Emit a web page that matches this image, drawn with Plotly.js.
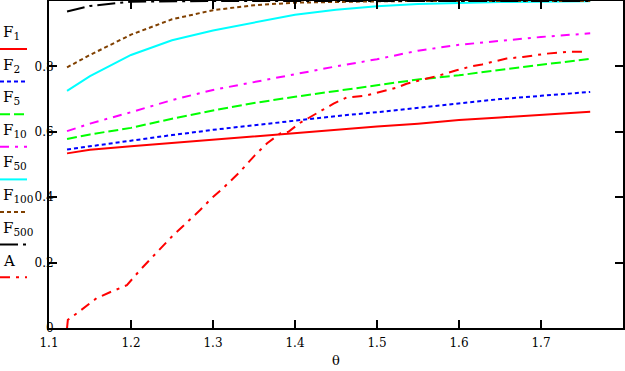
<!DOCTYPE html>
<html>
<head>
<meta charset="utf-8">
<script src="https://cdn.plot.ly/plotly-3.0.1.min.js"></script>
<style>html,body{margin:0;padding:0;background:#fff;}#chart{width:625px;height:371px;}</style>
</head>
<body>
<div id="chart"></div>
<script>
// ---- data ----
const theta = [1.122,1.15,1.2,1.25,1.3,1.35,1.4,1.45,1.5,1.55,1.6,1.65,1.7,1.76];
const F1   = [0.534,0.545,0.556,0.566,0.578,0.588,0.598,0.607,0.616,0.625,0.636,0.644,0.652,0.661];
const F2   = [0.546,0.556,0.573,0.590,0.606,0.620,0.636,0.648,0.660,0.673,0.688,0.700,0.710,0.722];
const F5   = [0.578,0.592,0.612,0.640,0.665,0.688,0.707,0.725,0.742,0.760,0.773,0.790,0.805,0.823];
const F10  = [0.602,0.625,0.660,0.697,0.728,0.752,0.778,0.800,0.822,0.848,0.866,0.879,0.890,0.901];
const F50  = [0.725,0.770,0.835,0.880,0.910,0.935,0.958,0.973,0.984,0.991,0.995,0.997,0.998,0.999];
const F100 = [0.797,0.835,0.897,0.944,0.972,0.987,0.995,0.998,0.999,1,1,1,1,1];
const F500 = [0.968,0.985,0.998,1,1,1,1,1,1,1,1,1,1,1];
const thetaA = [1.122,1.123,1.134,1.158,1.175,1.195,1.211,1.223,1.25,1.284,1.298,1.312,1.333,1.351,1.366,1.382,1.392,1.406,1.420,1.433,1.447,1.463,1.487,1.508,1.524,1.536,1.552,1.577,1.597,1.613,1.628,1.641,1.658,1.678,1.707,1.735,1.754];
const A      = [0,0.025,0.045,0.091,0.110,0.131,0.177,0.208,0.280,0.360,0.396,0.427,0.478,0.528,0.565,0.595,0.600,0.627,0.646,0.666,0.686,0.705,0.711,0.724,0.735,0.747,0.757,0.773,0.788,0.799,0.806,0.814,0.824,0.829,0.839,0.845,0.845];
const seriesNames = ['1','2','5','10','50','100','500'];
const xTicks = [1.1,1.2,1.3,1.4,1.5,1.6,1.7];
const yTicks = [0,0.2,0.4,0.6,0.8];

// ---- styles ----
const styles = [
  {color:'#ff0000', dash:'solid'},
  {color:'#0000ff', dash:'4px,3px'},
  {color:'#00ff00', dash:'10px,4px'},
  {color:'#ff00ff', dash:'9px,6px,3px,6px'},
  {color:'#00ffff', dash:'solid'},
  {color:'#804000', dash:'4px,3px'},
  {color:'#000000', dash:'18px,5px,3px,5px'}
];
const styleA = {color:'#ff0000', dash:'10px,6px,3px,6px'};
const allF = [F1,F2,F5,F10,F50,F100,F500];

const traces = allF.map((ys,i)=>({
  x: theta, y: ys, type:'scatter', mode:'lines', name:'F'+seriesNames[i],
  line:{color:styles[i].color, dash:styles[i].dash, width:2}
}));
traces.push({x: thetaA, y: A, type:'scatter', mode:'lines', name:'A',
  line:{color:styleA.color, dash:styleA.dash, width:2}});

// ---- custom legend (text above line sample) ----
const L = 49, R = 623, T = 1, B = 328;
const px = v => (v - L) / (R - L);
const py = v => (B - v) / (B - T);
const annotations = [], shapes = [];
const legLabels = seriesNames.map(s => 'F<sub>'+s+'</sub>').concat(['A']);
const legStyles = styles.concat([styleA]);
legLabels.forEach((lab,i)=>{
  const lineY = 49 + i*32.6;
  annotations.push({xref:'paper', yref:'paper', x:px(1), y:py(lineY-5), xanchor:'left', yanchor:'bottom',
    text:lab, showarrow:false, font:{family:'DejaVu Serif', size:15, color:'#000'}});
  shapes.push({type:'line', xref:'paper', yref:'paper', x0:px(0), x1:px(27), y0:py(lineY), y1:py(lineY),
    line:{color:legStyles[i].color, width:2, dash:legStyles[i].dash}});
});

const axisCommon = {
  showgrid:false, zeroline:false, showline:true, linecolor:'#000', linewidth:2,
  mirror:'ticks', ticks:'inside', ticklen:8, tickwidth:2, tickcolor:'#000',
  tickfont:{family:'DejaVu Serif', size:12, color:'#000'}
};

const layout = {
  width:625, height:371,
  margin:{l:L, r:625-R, t:T, b:371-B},
  paper_bgcolor:'#fff', plot_bgcolor:'#fff',
  showlegend:false,
  xaxis: Object.assign({}, axisCommon, {range:[1.1,1.8], tickvals:xTicks, ticktext:xTicks.map(v=>v.toFixed(1)),
    ticklabelstandoff:3,
    title:{text:'θ', font:{family:'DejaVu Serif', size:13, color:'#000'}, standoff:6}}),
  yaxis: Object.assign({}, axisCommon, {range:[0,1], tickvals:yTicks, ticktext:yTicks.map(v=>v===0?'0':v.toFixed(1)),
    ticklabelstandoff:-9}),
  annotations: annotations,
  shapes: shapes
};

Plotly.newPlot('chart', traces, layout, {displayModeBar:false, staticPlot:true});
</script>
</body>
</html>
